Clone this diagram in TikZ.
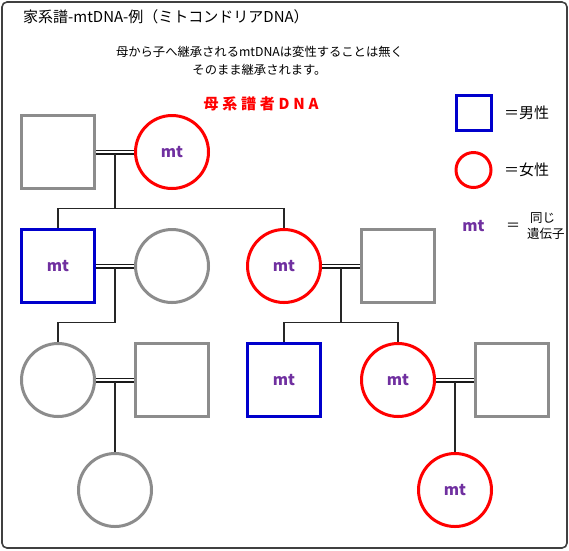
\documentclass[tikz,border=0pt]{standalone}
\usepackage{fontspec}
\setmainfont{Noto Sans CJK JP}
\usetikzlibrary{calc}
\definecolor{gcol}{HTML}{8C8C8C}
\definecolor{rcol}{HTML}{FF0000}
\definecolor{bcol}{HTML}{0000CC}
\definecolor{pcol}{HTML}{7030A0}
\begin{document}
\begin{tikzpicture}[x=1pt,y=-1pt,
  male/.style={draw=gcol,line width=3pt,minimum size=73pt,inner sep=0pt,rectangle,font=\bfseries\fontsize{15.5}{15.5}\selectfont,text=pcol},
  female/.style={draw=gcol,line width=3pt,minimum size=73pt,inner sep=0pt,circle,font=\bfseries\fontsize{15.5}{15.5}\selectfont,text=pcol},
  red/.style={draw=rcol},
  blue/.style={draw=bcol},
  link/.style={line width=1.6pt,draw=black!85},
  dbl/.style={line width=1.3pt,draw=black!90},
  lbl/.style={inner sep=0pt,anchor=west}]
\useasboundingbox (0,0) rectangle (569,550);
\draw[line width=1.6pt,draw=black!75,rounded corners=5pt] (2,2) rectangle (567,548);
% title texts
\node[lbl] (title) at (23,17) {\fontsize{15}{15}\selectfont 家系譜-mtDNA-例（ミトコンドリアDNA）};
\node[inner sep=0pt,align=center,font=\fontsize{12.3}{18}\selectfont] (sub) at (259.5,61) {母から子へ継承されるmtDNAは変性することは無く\\そのまま継承されます。};
\node[inner sep=0pt,text=rcol,font=\bfseries\fontsize{15}{15}\selectfont] (head) at (261,104) {\addfontfeature{LetterSpace=25}母系譜者DNA};
% generation 1
\node[male] (g1m) at (58,152) {};
\node[female,red] (g1f) at (172,152) {mt};
% generation 2
\node[male,blue] (g2a) at (58,266) {mt};
\node[female] (g2aw) at (172,266) {};
\node[female,red] (g2b) at (284,266) {mt};
\node[male] (g2bh) at (398,266) {};
% generation 3
\node[female] (g3a) at (58,380) {};
\node[male] (g3ah) at (172,380) {};
\node[male,blue] (g3b) at (284,380) {mt};
\node[female,red] (g3c) at (398,380) {mt};
\node[male] (g3ch) at (512,380) {};
% generation 4
\node[female] (g4a) at (115,490) {};
\node[female,red] (g4c) at (455,490) {mt};
% legend
\node[draw=bcol,line width=3pt,minimum size=35pt,inner sep=0pt] (lm) at (473.5,113) {};
\node[lbl,font=\fontsize{15}{15}\selectfont] (lmt) at (504,113) {＝男性};
\node[draw=rcol,line width=3pt,minimum size=35pt,inner sep=0pt,circle] (lf) at (473.5,170) {};
\node[lbl,font=\fontsize{15}{15}\selectfont] (lft) at (504,170) {＝女性};
\node[inner sep=0pt,text=pcol,font=\bfseries\fontsize{15.5}{15.5}\selectfont] (lmt2) at (473.5,226) {mt};
\node[inner sep=0pt,font=\fontsize{14}{14}\selectfont] (leq) at (513,227) {＝};
\node[lbl,align=left,font=\fontsize{12.5}{16}\selectfont] (lgt) at (527,226) {\hspace{3pt}同じ\\遺伝子};
% marriages
\foreach \a/\b/\n in {g1m/g1f/m1,g2a/g2aw/m2,g2b/g2bh/m3,g3a/g3ah/m4,g3c/g3ch/m5}{
  \draw[dbl] ([yshift=-2pt]\a.east) -- ([yshift=-2pt]\b.west);
  \draw[dbl] ([yshift=1.8pt]\a.east) -- ([yshift=1.8pt]\b.west);
  \coordinate (\n) at ($(\a.east)!0.5!(\b.west)+(0,1.8)$);
}
% descent
\coordinate (s1) at ($(m1)+(0,54.5)$);
\draw[link] (m1) -- (s1);
\draw[link] (g2a.north) |- (s1) -| (g2b.north);
\coordinate (s2) at ($(m2)+(0,54.5)$);
\draw[link] (m2) -- (s2) -| (g3a.north);
\coordinate (s3) at ($(m3)+(0,54.5)$);
\draw[link] (m3) -- (s3);
\draw[link] (g3b.north) |- (s3) -| (g3c.north);
\draw[link] (m4) -- (g4a.north);
\draw[link] (m5) -- (g4c.north);
\end{tikzpicture}
\end{document}
